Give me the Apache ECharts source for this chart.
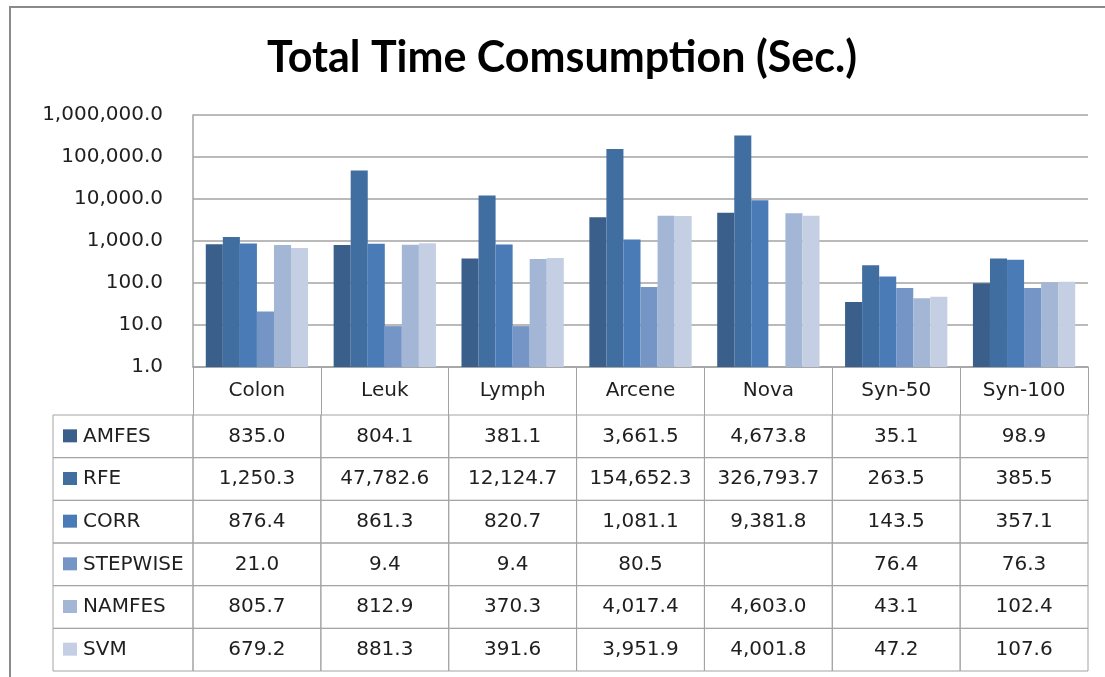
<!DOCTYPE html>
<html>
<head>
<meta charset="utf-8">
<script src="https://cdn.jsdelivr.net/npm/echarts@6/dist/echarts.min.js"></script>
<style>
  html, body { margin: 0; padding: 0; background: #fff; }
  #chart { width: 1105px; height: 677px; }
</style>
</head>
<body>
<div id="chart"></div>
<script>
// Datasets (x axis) and methods (series)
const categories = ['Colon', 'Leuk', 'Lymph', 'Arcene', 'Nova', 'Syn-50', 'Syn-100'];
const methodNames = ['AMFES', 'RFE', 'CORR', 'STEPWISE', 'NAMFES', 'SVM'];

// Total time in seconds per method
const amfes    = [835.0, 804.1, 381.1, 3661.5, 4673.8, 35.1, 98.9];
const rfe      = [1250.3, 47782.6, 12124.7, 154652.3, 326793.7, 263.5, 385.5];
const corr     = [876.4, 861.3, 820.7, 1081.1, 9381.8, 143.5, 357.1];
const stepwise = [21.0, 9.4, 9.4, 80.5, null, 76.4, 76.3];
const namfes   = [805.7, 812.9, 370.3, 4017.4, 4603.0, 43.1, 102.4];
const svm      = [679.2, 881.3, 391.6, 3951.9, 4001.8, 47.2, 107.6];

const yTicks = [1, 10, 100, 1000, 10000, 100000, 1000000];

const seriesValues = [amfes, rfe, corr, stepwise, namfes, svm];
const colors = ['#3a5f8b', '#416ea1', '#4a7bb7', '#7495c6', '#a3b6d6', '#c4cfe3'];

const FONT = 'DejaVu Sans';
const LINE = '#a3a3a3';
const TEXT = '#1f1f1f';

function fmt(v) {
  if (v === null || v === undefined) return '';
  return v.toLocaleString('en-US', { minimumFractionDigits: 1, maximumFractionDigits: 1 });
}

// Data table below the plot: a value grid measured in column units.
// The legend column is LEG_W columns wide, then one column per dataset.
const LEG_W = 1.095;
const cells = [];
methodNames.forEach((name, r) => {
  cells.push({ x0: -LEG_W, x1: 0, row: r, text: name, color: colors[r], legend: true });
  categories.forEach((c, i) => {
    cells.push({ x0: i, x1: i + 1, row: r, text: fmt(seriesValues[r][i]), legend: false });
  });
});

function renderCell(params, api) {
  const cell = cells[params.dataIndex];
  const a = api.coord([api.value(0), api.value(2)]);
  const b = api.coord([api.value(1), api.value(2) + 1]);
  const x = Math.min(a[0], b[0]), y = Math.min(a[1], b[1]);
  const w = Math.abs(b[0] - a[0]), h = Math.abs(b[1] - a[1]);
  const children = [{
    type: 'rect',
    shape: { x: x, y: y, width: w, height: h },
    style: { fill: 'none', stroke: LINE, lineWidth: 1 }
  }];
  if (cell.legend) {
    children.push({
      type: 'rect',
      shape: { x: x + 10, y: y + h / 2 - 7, width: 14, height: 13 },
      style: { fill: cell.color }
    });
    children.push({
      type: 'text',
      style: {
        x: x + 30, y: y + h / 2, text: cell.text, fill: TEXT,
        font: '20px "' + FONT + '"', align: 'left', verticalAlign: 'middle'
      }
    });
  } else {
    children.push({
      type: 'text',
      style: {
        x: x + w / 2, y: y + h / 2, text: cell.text, fill: TEXT,
        font: '20px "' + FONT + '"', align: 'center', verticalAlign: 'middle'
      }
    });
  }
  return { type: 'group', children: children };
}

const barSeries = methodNames.map((name, k) => ({
  name: name,
  type: 'bar',
  xAxisIndex: 0,
  yAxisIndex: 0,
  data: seriesValues[k],
  barGap: '0%',
  barCategoryGap: '20%',
  itemStyle: { color: colors[k] },
  silent: true
}));

const chart = echarts.init(document.getElementById('chart'), null, { renderer: 'canvas' });

chart.setOption({
  animation: false,
  backgroundColor: '#ffffff',
  textStyle: { fontFamily: FONT },
  title: {
    text: 'Total Time Comsumption (Sec.)',
    left: 557,
    top: 32,
    textAlign: 'center',
    textStyle: { fontFamily: 'Lato', fontWeight: 'bold', fontSize: 43, color: '#000' }
  },
  graphic: [{
    type: 'rect',
    shape: { x: 10, y: 7, width: 1120, height: 700 },
    style: { fill: 'none', stroke: '#8a8a8a', lineWidth: 2 },
    silent: true,
    z: 100
  }],
  grid: [
    { left: 193, right: 17, top: 115, height: 252 },
    { left: 53, right: 17, top: 415, bottom: 6 }
  ],
  xAxis: [{
    gridIndex: 0,
    type: 'category',
    data: categories,
    axisLine: { show: true, lineStyle: { color: LINE, width: 1.5 } },
    axisTick: { show: true, length: 48, interval: 0, lineStyle: { color: LINE, width: 1 } },
    axisLabel: { color: TEXT, fontSize: 20, fontFamily: FONT, margin: 14, interval: 0 },
    splitLine: { show: false }
  }, {
    gridIndex: 1,
    type: 'value',
    min: -LEG_W,
    max: categories.length,
    show: false
  }],
  yAxis: [{
    gridIndex: 0,
    type: 'log',
    logBase: 10,
    min: yTicks[0],
    max: yTicks[yTicks.length - 1],
    axisLine: { show: true, lineStyle: { color: LINE, width: 1.5 } },
    axisTick: { show: false },
    axisLabel: { color: TEXT, fontSize: 20, fontFamily: FONT, margin: 30, formatter: v => fmt(v) },
    splitLine: { show: true, lineStyle: { color: LINE, width: 1.5 } }
  }, {
    gridIndex: 1,
    type: 'value',
    min: 0,
    max: methodNames.length,
    inverse: true,
    show: false
  }],
  series: barSeries.concat([{
    type: 'custom',
    xAxisIndex: 1,
    yAxisIndex: 1,
    silent: true,
    renderItem: renderCell,
    encode: { x: [0, 1], y: 2 },
    data: cells.map(c => [c.x0, c.x1, c.row])
  }])
});
</script>
</body>
</html>
